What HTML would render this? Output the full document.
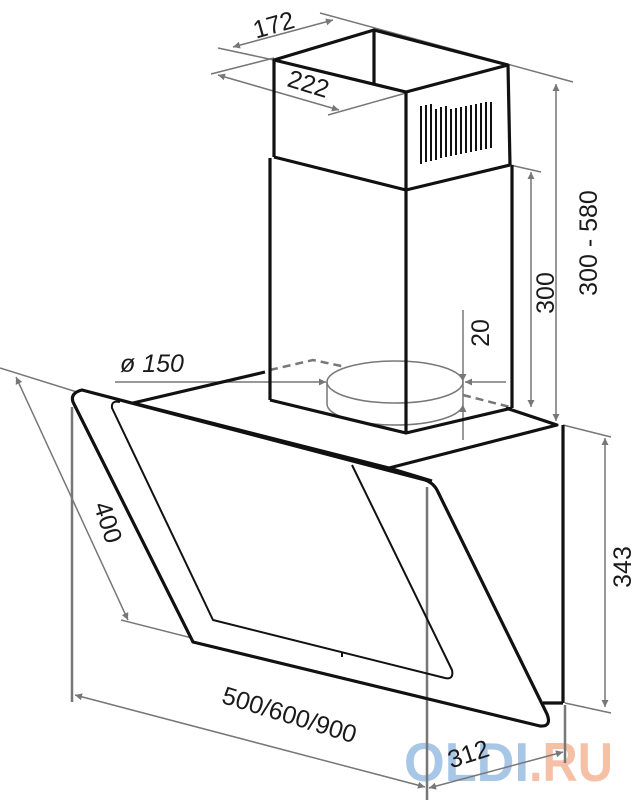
<!DOCTYPE html>
<html><head><meta charset="utf-8"><style>
html,body{margin:0;padding:0;background:#fff;}
svg{display:block;}
text{font-family:"Liberation Sans",sans-serif;fill:#1a1a1a;}
</style></head><body>
<svg width="636" height="800" viewBox="0 0 636 800" xmlns="http://www.w3.org/2000/svg">
<defs>
<marker id="a" viewBox="0 0 10 10" refX="10" refY="5" markerWidth="9" markerHeight="7" orient="auto-start-reverse" markerUnits="userSpaceOnUse"><path d="M0,0 L10,5 L0,10 z" fill="#777"/></marker>
</defs>
<!-- watermark -->
<text x="404" y="781" font-size="55" font-weight="bold" style="fill:#a8c6e6" textLength="125" lengthAdjust="spacingAndGlyphs">OLDI</text>
<text x="529" y="781" font-size="55" font-weight="bold" style="fill:#f5c0a6" textLength="84" lengthAdjust="spacingAndGlyphs">.RU</text>

<g stroke="#777" stroke-width="1.5" fill="none">
 <!-- 172 -->
 <line x1="218" y1="48" x2="274" y2="60"/>
 <line x1="320" y1="13" x2="573" y2="82"/>
 <line x1="233" y1="47" x2="333" y2="20" marker-start="url(#a)" marker-end="url(#a)"/>
 <!-- 222 -->
 <line x1="211" y1="74" x2="274" y2="58"/>
 <line x1="328" y1="115" x2="406" y2="93"/>
 <line x1="218" y1="75" x2="339" y2="110" marker-start="url(#a)" marker-end="url(#a)"/>
 <!-- 300-580 -->
 <line x1="556" y1="84" x2="556" y2="421" marker-start="url(#a)" marker-end="url(#a)"/>
 <!-- 300 -->
 <line x1="510" y1="165" x2="541" y2="172"/>
 <line x1="531" y1="172" x2="531" y2="407" marker-start="url(#a)" marker-end="url(#a)"/>
 <!-- 20 -->
 <line x1="463" y1="310" x2="463" y2="381" marker-end="url(#a)"/>
 <line x1="463" y1="440" x2="463" y2="405" marker-end="url(#a)"/>
 <!-- 150 -->
 <line x1="115" y1="382" x2="326" y2="382" marker-end="url(#a)"/>
 <line x1="506" y1="382" x2="465" y2="382" marker-end="url(#a)"/>
 <!-- cylinder -->
 <ellipse cx="395" cy="382" rx="68" ry="21"/>
 <path d="M327,382 V404 A68,21 0 0 0 463,404 V382"/>
 <path d="M270,370 L313,360 L346,367" stroke-dasharray="8,5" stroke-width="2.5"/>
 <path d="M463,395 L510,407" stroke-dasharray="8,5" stroke-width="2.5"/>
 <!-- 400 -->
 <line x1="0" y1="368" x2="77" y2="392"/>
 <line x1="121" y1="620" x2="192" y2="638"/>
 <line x1="16" y1="377" x2="128" y2="620" marker-start="url(#a)" marker-end="url(#a)"/>
 <!-- left vertical -->
 <line x1="72" y1="407" x2="72" y2="702" stroke-width="2.5"/>
 <!-- 500/600/900 -->
 <line x1="75" y1="695" x2="425" y2="787" marker-start="url(#a)" marker-end="url(#a)"/>
 <line x1="427" y1="487" x2="427" y2="800" stroke-width="2.5"/>
 <!-- 312 -->
 <line x1="429" y1="788" x2="563" y2="752" marker-start="url(#a)" marker-end="url(#a)"/>
 <line x1="565" y1="705" x2="565" y2="763" stroke-width="2.5"/>
 <!-- 343 -->
 <line x1="563" y1="425" x2="611" y2="437"/>
 <line x1="565" y1="703" x2="611" y2="713"/>
 <line x1="605" y1="438" x2="605" y2="707" marker-start="url(#a)" marker-end="url(#a)"/>
</g>

<g stroke="#111" stroke-width="3.2" fill="none" stroke-linejoin="round">
 <!-- upper box -->
 <path d="M274,60 L374,30 L508,65 L406,92 Z"/>
 <line x1="374" y1="30" x2="374" y2="84"/>
 <line x1="274" y1="60" x2="274" y2="157"/>
 <line x1="406" y1="92" x2="406" y2="190"/>
 <line x1="508" y1="65" x2="510" y2="165"/>
 <path d="M274,157 L406,190 L510,165"/>
 <!-- lower chimney -->
 <line x1="270" y1="158" x2="270" y2="400"/>
 <line x1="406" y1="190" x2="406" y2="433"/>
 <line x1="512" y1="165" x2="512" y2="408"/>
 <path d="M270,400 L406,433 L512,408"/>
 <!-- canopy -->
 <path d="M265,372 L133,403 L389,468 L557,425 L506,408"/>
 <line x1="563" y1="425" x2="563" y2="703"/>
 <line x1="543" y1="703" x2="563" y2="703"/>
 <line x1="389" y1="468" x2="432" y2="481"/>
 <!-- outer glass -->
 <path d="M82,390 L425,480 Q434,483 438,492 L547,714 Q552,727 540,726 L193,642 L73,402 Q70,393 82,390 Z"/>
</g>
<g stroke="#111" stroke-width="2" fill="none" stroke-linejoin="round">
 <path d="M352,465 L452,670 Q454,680 445,678 L213,620 L112,408 Q111,400 120,402"/>
 <line x1="342" y1="653" x2="342" y2="657"/>
</g>
<!-- vents -->
<g stroke="#111" stroke-width="2">
 <line x1="421" y1="106" x2="421" y2="164"/><line x1="426" y1="105" x2="426" y2="162"/><line x1="431" y1="104" x2="431" y2="161"/><line x1="436" y1="109" x2="436" y2="160"/><line x1="441" y1="107" x2="441" y2="158"/><line x1="446" y1="106" x2="446" y2="157"/><line x1="451" y1="109" x2="451" y2="156"/><line x1="456" y1="108" x2="456" y2="155"/><line x1="461" y1="107" x2="461" y2="154"/><line x1="466" y1="106" x2="466" y2="153"/><line x1="471" y1="105" x2="471" y2="152"/><line x1="476" y1="104" x2="476" y2="151"/><line x1="481" y1="103" x2="481" y2="150"/><line x1="486" y1="102" x2="486" y2="149"/><line x1="491" y1="102" x2="491" y2="148"/>
</g>

<g font-size="25">
 <text transform="translate(276,33) rotate(-16)" text-anchor="middle">172</text>
 <text transform="translate(306,92) rotate(17)" text-anchor="middle">222</text>
 <text transform="translate(597,243) rotate(-90)" text-anchor="middle">300 - 580</text>
 <text transform="translate(554,293) rotate(-90)" text-anchor="middle">300</text>
 <text transform="translate(489,333) rotate(-90)" text-anchor="middle">20</text>
 <text x="120" y="372" font-style="italic">ø 150</text>
 <text transform="translate(100,525) rotate(72)" text-anchor="middle">400</text>
 <text transform="translate(287,723) rotate(17)" text-anchor="middle">500/600/900</text>
 <text transform="translate(471,762) rotate(-18)" text-anchor="middle">312</text>
 <text transform="translate(631,567) rotate(-90)" text-anchor="middle">343</text>
</g>
</svg>
</body></html>
